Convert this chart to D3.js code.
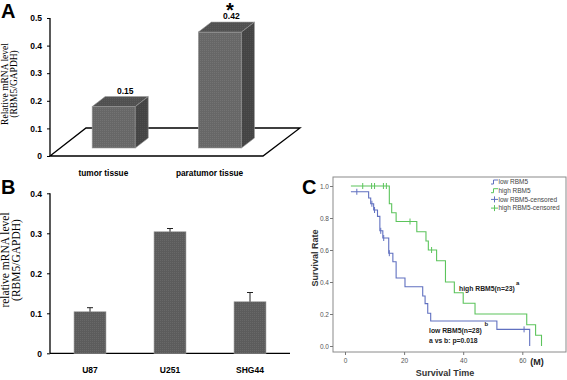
<!DOCTYPE html>
<html>
<head>
<meta charset="utf-8">
<script src="https://cdn.jsdelivr.net/npm/d3@7"></script>
<style>
  body { margin: 0; background: #fff; }
  svg { display: block; }
  text { font-family: "Liberation Sans", Arial, sans-serif; }
</style>
</head>
<body>
<div id="chart"></div>
<script>
// panel A: tissue expression (3D columns)
const tissueCats = ["tumor tissue", "paratumor tissue"];
const tissueVals = [0.15, 0.42];
const tissueTicks = [0, 0.1, 0.2, 0.3, 0.4, 0.5];

// panel B: cell lines with error bars
const cellCats = ["U87", "U251", "SHG44"];
const cellVals = [0.104, 0.304, 0.129];
const cellErr = [0.010, 0.008, 0.023];
const cellTicks = [0, 0.1, 0.2, 0.3, 0.4];

// panel C: Kaplan-Meier steps (time in months, survival rate)
const lowTimes = [2, 8, 8.7, 9.7, 11, 11.8, 12.8, 14.8, 16.2, 17.3, 20.3, 26.3, 27.1, 28, 29, 51.4, 62.5];
const lowSurv = [0.964, 0.925, 0.889, 0.85, 0.81, 0.72, 0.675, 0.58, 0.527, 0.425, 0.37, 0.3125, 0.265, 0.205, 0.156, 0.104, 0];
const lowCensT = [4, 9.1, 10, 12.1, 13.1, 15, 60.6];
const lowCensS = [0.964, 0.889, 0.85, 0.72, 0.675, 0.58, 0.104];
const highTimes = [2, 15, 15.8, 17.3, 24.3, 27.4, 28.2, 31, 34, 37, 40, 44, 61.5, 64.5, 66.5];
const highSurv = [1, 0.889, 0.833, 0.778, 0.714, 0.656, 0.6, 0.533, 0.4, 0.333, 0.267, 0.2, 0.133, 0.067, 0];
const highCensT = [6, 9, 10, 13, 14, 22, 29.3];
const highCensS = [1, 1, 1, 1, 1, 0.778, 0.6];
const timeTicks = [0, 20, 40, 60];
const rateTicks = [0, 0.2, 0.4, 0.6, 0.8, 1.0];

const svg = d3.select("#chart").append("svg")
    .attr("width", 567)
    .attr("height", 380);

// dotted texture like the original bars
const defs = svg.append("defs");
function dots(id, base, dot) {
    let p = defs.append("pattern").attr("id", id)
        .attr("width", 2).attr("height", 2).attr("patternUnits", "userSpaceOnUse");
    p.append("rect").attr("width", 2).attr("height", 2).attr("fill", base);
    p.append("rect").attr("width", 1).attr("height", 1).attr("fill", dot);
}
dots("fillFront", "#676767", "#737373");
dots("fillTop", "#505050", "#5a5a5a");
dots("fillSide", "#444444", "#4d4d4d");
dots("fillB", "#5c5c5c", "#686868");

function panelLetter(txt, x, y) {
    svg.append("text").attr("x", x).attr("y", y)
        .attr("font-size", 20).attr("font-weight", "bold").text(txt);
}

// ---------------- Panel A ----------------
panelLetter("A", 1, 18);
{
    let gA = svg.append("g");
    let yA = d3.scaleLinear().domain([0, 0.5]).range([156, 18]);
    let floorL = 50, floorR = 263;
    let fdx = 36, fdy = -28;        // floor depth
    let off = {x: 10.3, y: -8};     // front plane of columns
    let dep = {x: 13, y: -10};      // column depth

    let xA = d3.scaleBand().domain(tissueCats)
        .range([floorL + off.x, floorR + off.x])
        .paddingInner(0.594).paddingOuter(0.3);

    // floor
    gA.append("path")
        .attr("d", d3.line()([[floorL, yA(0)], [floorL + fdx, yA(0) + fdy], [floorR + fdx + 1, yA(0) + fdy], [floorR, yA(0)]]) + "Z")
        .attr("fill", "#fff").attr("stroke", "#000").attr("stroke-width", 1.3);

    // axis
    let axA = d3.axisLeft(yA).tickValues(tissueTicks).tickSize(3).tickFormat(d => d === 0 ? "0" : d3.format(".1f")(d));
    let ga = gA.append("g").attr("transform", "translate(" + floorL + ",0)").call(axA);
    ga.select(".domain").attr("stroke", "#000").attr("stroke-width", 1.3).attr("d", "M0," + yA(0.5) + "V" + yA(0));
    ga.selectAll("text").attr("font-size", 8.5).attr("font-weight", "bold").attr("x", -8).attr("fill", "#000");

    // columns
    let cols = gA.selectAll(".col").data(tissueVals).enter().append("g");
    cols.each(function (v, i) {
        let g = d3.select(this);
        let x0 = xA(tissueCats[i]), w = xA.bandwidth();
        let yt = yA(v) + off.y, yb = yA(0) + off.y;
        g.append("rect").attr("x", x0).attr("y", yt).attr("width", w).attr("height", yb - yt)
            .attr("fill", "url(#fillFront)").attr("stroke", "#9a9a9a").attr("stroke-width", 0.6);
        g.append("path").attr("d", d3.line()([[x0, yt], [x0 + dep.x, yt + dep.y], [x0 + w + dep.x, yt + dep.y], [x0 + w, yt]]) + "Z")
            .attr("fill", "url(#fillTop)").attr("stroke", "#9a9a9a").attr("stroke-width", 0.6);
        g.append("path").attr("d", d3.line()([[x0 + w, yt], [x0 + w + dep.x, yt + dep.y], [x0 + w + dep.x, yb + dep.y], [x0 + w, yb]]) + "Z")
            .attr("fill", "url(#fillSide)").attr("stroke", "#9a9a9a").attr("stroke-width", 0.6);
        g.append("text").attr("x", x0 + w / 2 + dep.x - 1.5).attr("y", yt + dep.y - 3)
            .attr("text-anchor", "middle").attr("font-size", 8.5).attr("font-weight", "bold")
            .text(d3.format(".2f")(v));
    });
    // significance star
    let i2 = 1;
    gA.append("text").attr("x", xA(tissueCats[i2]) + xA.bandwidth() / 2 + dep.x - 3)
        .attr("y", yA(tissueVals[i2]) + off.y + dep.y - 5)
        .attr("text-anchor", "middle").attr("font-size", 20).attr("font-weight", "bold").text("*");

    // category labels on the floor front
    gA.selectAll(".catA").data(tissueCats).enter().append("text")
        .attr("x", d => xA(d) + xA.bandwidth() / 2 - off.x)
        .attr("y", 176).attr("text-anchor", "middle")
        .attr("font-size", 8.3).attr("font-weight", "bold").text(d => d);

    let lab = gA.append("text").attr("transform", "translate(8,84) rotate(-90)")
        .attr("text-anchor", "middle").attr("font-size", 9.5)
        .style("font-family", "'Liberation Serif', 'Times New Roman', serif");
    lab.append("tspan").attr("x", 0).attr("dy", 0).text("Relative mRNA level");
    lab.append("tspan").attr("x", 0).attr("dy", 9).text("(RBM5/GAPDH)");
}

// ---------------- Panel B ----------------
panelLetter("B", 1, 194);
{
    let gB = svg.append("g");
    let yB = d3.scaleLinear().domain([0, 0.4]).range([353.3, 193.3]);
    let xB = d3.scaleBand().domain(cellCats).range([50, 290]).paddingInner(0.6).paddingOuter(0.3);

    let axB = d3.axisLeft(yB).tickValues(cellTicks).tickSize(3).tickFormat(d => d === 0 ? "0" : d3.format(".1f")(d));
    let gb = gB.append("g").attr("transform", "translate(50,0)").call(axB);
    gb.select(".domain").attr("stroke", "#000").attr("stroke-width", 1.3).attr("d", "M0," + yB(0.4) + "V" + yB(0));
    gb.selectAll("text").attr("font-size", 8.5).attr("font-weight", "bold").attr("x", -8);

    gB.append("line").attr("x1", 50).attr("x2", 290).attr("y1", yB(0)).attr("y2", yB(0))
        .attr("stroke", "#000").attr("stroke-width", 1.3);

    gB.selectAll(".bar").data(cellVals).enter().append("rect")
        .attr("x", (d, i) => xB(cellCats[i]))
        .attr("y", d => yB(d))
        .attr("width", xB.bandwidth())
        .attr("height", d => yB(0) - yB(d))
        .attr("fill", "url(#fillB)").attr("stroke", "#aaa").attr("stroke-width", 0.6);

    // error bars (upper only)
    cellVals.forEach((v, i) => {
        let cx = xB(cellCats[i]) + xB.bandwidth() / 2;
        gB.append("line").attr("x1", cx).attr("x2", cx).attr("y1", yB(v)).attr("y2", yB(v + cellErr[i]))
            .attr("stroke", "#222").attr("stroke-width", 1);
        gB.append("line").attr("x1", cx - 3).attr("x2", cx + 3).attr("y1", yB(v + cellErr[i])).attr("y2", yB(v + cellErr[i]))
            .attr("stroke", "#222").attr("stroke-width", 1);
    });

    gB.selectAll(".catB").data(cellCats).enter().append("text")
        .attr("x", d => xB(d) + xB.bandwidth() / 2).attr("y", 373)
        .attr("text-anchor", "middle").attr("font-size", 8.5).attr("font-weight", "bold").text(d => d);

    let lab = gB.append("text").attr("transform", "translate(9,260) rotate(-90)")
        .attr("text-anchor", "middle").attr("font-size", 11.5)
        .style("font-family", "'Liberation Serif', 'Times New Roman', serif");
    lab.append("tspan").attr("x", 0).attr("dy", 0).text("relative mRNA level");
    lab.append("tspan").attr("x", 0).attr("dy", 10.5).text("(RBM5/GAPDH)");
}

// ---------------- Panel C ----------------
panelLetter("C", 302, 194);
{
    let gC = svg.append("g");
    let blue = "#6070c0", green = "#5cc45c";
    let xC = d3.scaleLinear().domain([0, 60]).range([345, 522.3]);
    let yC = d3.scaleLinear().domain([0, 1]).range([346, 186]);
    let left = 333, right = 566, top = 177, bottom = 352;

    gC.append("rect").attr("x", left).attr("y", top).attr("width", right - left).attr("height", bottom - top)
        .attr("fill", "none").attr("stroke", "#8a8a8a").attr("stroke-width", 1);

    let axY = d3.axisLeft(yC).tickValues(rateTicks).tickSize(3).tickFormat(d3.format(".1f"));
    let gy = gC.append("g").attr("transform", "translate(" + left + ",0)").call(axY);
    gy.select(".domain").remove();
    gy.selectAll("line").attr("stroke", "#777");
    gy.selectAll("text").attr("font-size", 6.5).attr("fill", "#555").attr("x", -4);

    let axX = d3.axisBottom(xC).tickValues(timeTicks).tickSize(3);
    let gx = gC.append("g").attr("transform", "translate(0," + bottom + ")").call(axX);
    gx.select(".domain").remove();
    gx.selectAll("line").attr("stroke", "#777");
    gx.selectAll("text").attr("font-size", 6.5).attr("fill", "#555").attr("y", 6);

    gC.append("text").attr("x", 537).attr("y", 365).attr("text-anchor", "middle")
        .attr("font-size", 9).attr("font-weight", "bold").attr("fill", "#222").text("(M)");
    gC.append("text").attr("x", 445).attr("y", 376).attr("text-anchor", "middle")
        .attr("font-size", 9).attr("font-weight", "bold").attr("fill", "#333").text("Survival Time");
    gC.append("text").attr("transform", "translate(318,258) rotate(-90)").attr("text-anchor", "middle")
        .attr("font-size", 9).attr("font-weight", "bold").attr("fill", "#333").text("Survival Rate");

    let step = d3.line().x(d => xC(d[0])).y(d => yC(d[1])).curve(d3.curveStepAfter);
    gC.append("path").attr("d", step(d3.zip(lowTimes, lowSurv)))
        .attr("fill", "none").attr("stroke", blue).attr("stroke-width", 1.1);
    gC.append("path").attr("d", step(d3.zip(highTimes, highSurv)))
        .attr("fill", "none").attr("stroke", green).attr("stroke-width", 1.1);

    function censor(ts, ss, col) {
        gC.selectAll(null).data(d3.zip(ts, ss)).enter().append("line")
            .attr("x1", d => xC(d[0])).attr("x2", d => xC(d[0]))
            .attr("y1", d => yC(d[1]) - 3).attr("y2", d => yC(d[1]) + 3)
            .attr("stroke", col).attr("stroke-width", 1);
    }
    censor(lowCensT, lowCensS, blue);
    censor(highCensT, highCensS, green);

    // legend
    let leg = [
        {name: "low RBM5", col: blue, cens: false},
        {name: "high RBM5", col: green, cens: false},
        {name: "low RBM5-censored", col: blue, cens: true},
        {name: "high RBM5-censored", col: green, cens: true}
    ];
    let lg = gC.append("g").attr("transform", "translate(491,182)");
    leg.forEach((d, i) => {
        let y = i * 8.7;
        if (d.cens) {
            lg.append("line").attr("x1", 0).attr("x2", 7).attr("y1", y).attr("y2", y).attr("stroke", d.col);
            lg.append("line").attr("x1", 3.5).attr("x2", 3.5).attr("y1", y - 3).attr("y2", y + 3).attr("stroke", d.col);
        } else {
            lg.append("path").attr("d", "M0," + (y + 2) + "H2.5V" + (y - 2) + "H7")
                .attr("fill", "none").attr("stroke", d.col);
        }
        lg.append("text").attr("x", 7.5).attr("y", y + 2.3).attr("font-size", 6.5).attr("fill", "#444").text(d.name);
    });

    // annotations
    let ann = gC.append("g").attr("font-weight", "bold").attr("fill", "#222");
    ann.append("text").attr("x", 459).attr("y", 291).attr("font-size", 6.8).text("high RBM5(n=23)");
    ann.append("text").attr("x", 516).attr("y", 285).attr("font-size", 6).text("a");
    ann.append("text").attr("x", 429).attr("y", 332.5).attr("font-size", 6.8).text("low RBM5(n=28)");
    ann.append("text").attr("x", 484.5).attr("y", 326).attr("font-size", 6).text("b");
    ann.append("text").attr("x", 429).attr("y", 343).attr("font-size", 6.8).text("a vs b: p=0.018");
}
</script>
</body>
</html>
